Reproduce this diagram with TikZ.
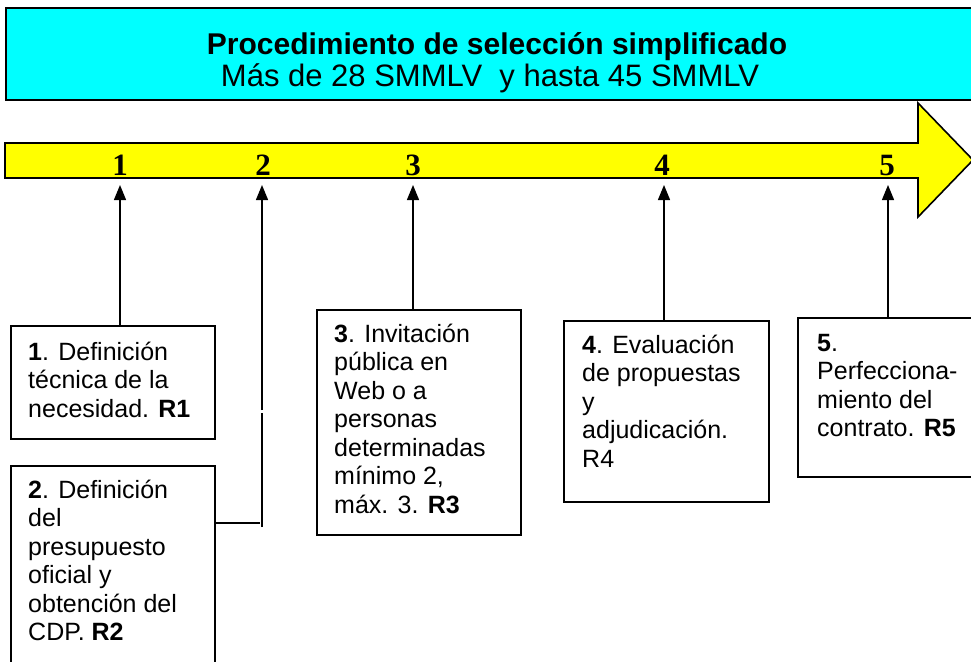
\documentclass[tikz,border=0pt]{standalone}
\usepackage{fontspec}
\setmainfont{Liberation Sans}
\newfontfamily\numfont{Liberation Serif}
\usetikzlibrary{arrows.meta}
\definecolor{titlecyan}{RGB}{0,255,255}
\definecolor{arrowyellow}{RGB}{255,255,0}
\begin{document}
\begin{tikzpicture}[x=1pt,y=-1pt,
 box/.style={draw=black, line width=1.6pt, fill=white, inner sep=0pt, anchor=north west},
 txt/.style={anchor=north west, inner sep=0pt, align=left, font=\fontsize{25}{28.5}\selectfont},
 num/.style={font=\numfont\bfseries\fontsize{31}{31}\selectfont, anchor=base, inner sep=0pt},
 conn/.style={line width=1.3pt},
 up/.style={conn, -{Triangle[length=15pt,width=12pt]}}]
\useasboundingbox (0,0) rectangle (971,661);
\clip (0,0) rectangle (971,661);
% title
\node[box, fill=titlecyan, minimum width=975, minimum height=92] (title) at (5,7) {};
\node[anchor=base, inner sep=0pt, font=\bfseries\fontsize{30}{30}\selectfont] (tt1) at (497,55) {Procedimiento de selección simplificado};
\node[anchor=base, inner sep=0pt, font=\fontsize{31}{31}\selectfont] (tt2) at (490,86) {Más de 28 SMMLV\ \ y hasta 45 SMMLV};
% big arrow
\draw[line width=1.6pt, fill=arrowyellow] (5,143) -- (918,143) -- (918,103) -- (973,160) -- (918,217) -- (918,178) -- (5,178) -- cycle;
\node[num] (n1) at (120,175) {1};
\node[num] (n2) at (263,175) {2};
\node[num] (n3) at (413,175) {3};
\node[num] (n4) at (662,175) {4};
\node[num] (n5) at (887,175) {5};
% boxes
\node[box, minimum width=204, minimum height=113] (b1) at (10,325) {};
\node[box, minimum width=204, minimum height=220] (b2) at (10,465) {};
\node[box, minimum width=204, minimum height=225] (b3) at (316,309) {};
\node[box, minimum width=205, minimum height=181] (b4) at (563,320) {};
\node[box, minimum width=200, minimum height=159] (b5) at (797,317) {};
\node[txt] (x1) at (28,340) {\rule{0pt}{20pt}\textbf{1}. Definición\\técnica de la\\necesidad. \textbf{R1}};
\node[txt] (x2) at (28,478) {\rule{0pt}{20pt}\textbf{2}. Definición\\del\\presupuesto\\oficial y\\obtención del\\CDP. \textbf{R2}};
\node[txt] (x3) at (334,322) {\rule{0pt}{20pt}\textbf{3}. Invitación\\pública en\\Web o a\\personas\\determinadas\\mínimo 2,\\máx. 3. \textbf{R3}};
\node[txt] (x4) at (582,333) {\rule{0pt}{20pt}\textbf{4}. Evaluación\\de propuestas\\y\\adjudicación.\\R4};
\node[txt] (x5) at (817,331) {\rule{0pt}{20pt}\textbf{5}.\\Perfecciona-\\miento del\\contrato. \textbf{R5}};
% connectors
\coordinate (p1) at (120,185);
\coordinate (p2) at (262,185);
\coordinate (p3) at (413,185);
\coordinate (p4) at (664,185);
\coordinate (p5) at (888,185);
\coordinate (h2) at (260,523);
\coordinate (q2a) at (262,527);
\coordinate (q2b) at (262,413);
\coordinate (q2c) at (262,410);
\draw[up] (b1.north -| p1) -- (p1);
\draw[conn] (b2.east |- h2) -- (h2);
\draw[conn] (q2a) -- (q2b);
\draw[up] (q2c) -- (p2);
\draw[up] (b3.north -| p3) -- (p3);
\draw[up] (b4.north -| p4) -- (p4);
\draw[up] (b5.north -| p5) -- (p5);
\end{tikzpicture}
\end{document}
